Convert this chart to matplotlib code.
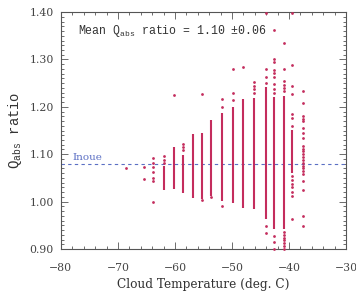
import numpy as np
import matplotlib
matplotlib.use("Agg")
import matplotlib.pyplot as plt
from matplotlib.ticker import MultipleLocator, FormatStrFormatter, FuncFormatter

# ── Data ──────────────────────────────────────────────────────
# temperature of each column (deg C)
col_temp = [-68.5, -65.4, -63.9, -62.0, -60.2, -58.5, -56.8, -55.3, -53.6,
            -51.8, -49.8, -48.0, -46.1, -44.1, -42.6, -40.9, -39.4, -37.5]

# dense (solid-looking) part of each column: low / high ratio, None = no dense part
dense_low = [None, None, None, 1.025, 1.027, 1.019, 1.008, 1.006, 1.012,
             1.001, 0.998, 0.986, 0.984, 0.963, 0.942, 0.942, 1.061, None]
dense_high = [None, None, None, 1.075, 1.116, 1.098, 1.143, 1.145, 1.173,
              1.188, 1.200, 1.217, 1.219, 1.242, 1.221, 1.222, 1.152, None]

# isolated points of each column
extra_pts = [
    [1.070],
    [1.073, 1.047],
    [1.091, 1.081, 1.072, 1.062, 1.050, 1.043, 1.000],
    [1.096, 1.088, 1.082],
    [1.226],
    [1.122, 1.115, 1.108],
    [],
    [1.228, 1.004],
    [1.009],
    [1.217, 1.200, 0.990],
    [1.279, 1.230, 1.215],
    [1.285],
    [1.253, 1.245, 1.238, 1.230],
    [1.398, 1.279, 1.263, 1.251, 0.949, 0.934],
    [1.362, 1.301, 1.295, 1.278, 1.272, 1.263, 1.249, 1.238, 1.230,
     0.928, 0.915, 0.901],
    [1.334, 1.280, 1.254, 1.247, 1.240, 1.233,
     0.936, 0.930, 0.924, 0.918, 0.912, 0.906, 0.900],
    [1.398, 1.289, 1.245, 1.228, 1.185, 1.177, 1.160,
     1.054, 1.046, 1.038, 1.030, 1.021, 1.012, 0.964],
    [1.233, 1.208, 1.180, 1.175, 1.170, 1.156, 1.145, 1.135,
     1.118, 1.112, 1.106, 1.100, 1.094, 1.088, 1.082, 1.076, 1.070,
     1.064, 1.058, 1.044, 1.024, 0.969, 0.949],
]

INOUE = 1.08
MEAN_TEXT = "Mean Q$_{\\rm abs}$ ratio = 1.10 \u00b10.06"

RED = "#c42d5d"
BLUE = "#5b6fc4"

plt.rcParams["mathtext.fontset"] = "custom"
plt.rcParams["mathtext.rm"] = "Liberation Mono"
plt.rcParams["mathtext.bf"] = "Liberation Mono:bold"

fig = plt.figure(figsize=(3.56, 2.95), dpi=100)
ax = fig.add_axes([0.171, 0.156, 0.801, 0.803])

# ── columns ──────────────────────────────────────────────────
for t, lo, hi, pts in zip(col_temp, dense_low, dense_high, extra_pts):
    if lo is not None:
        ax.vlines(t, lo, hi, color=RED, lw=1.5, zorder=3)
    if pts:
        ax.scatter([t] * len(pts), pts, s=4, color=RED, lw=0,
                   zorder=3, clip_on=False)

# ── Inoue line ───────────────────────────────────────────────
ax.axhline(INOUE, color=BLUE, lw=0.8, ls=(0, (3, 3)), zorder=2)
ax.text(-75.3, INOUE + 0.003, "Inoue", color=BLUE, fontsize=7.5,
        family="DejaVu Serif", ha="center", va="bottom")

ax.text(-77.0, 1.360, MEAN_TEXT, fontsize=8.3, family="Liberation Mono",
        color="#333333", ha="left", va="center")

# ── axes styling ─────────────────────────────────────────────
ax.set_xlim(-80, -30)
ax.set_ylim(0.90, 1.40)
ax.xaxis.set_major_locator(MultipleLocator(10))
ax.xaxis.set_minor_locator(MultipleLocator(2))
ax.yaxis.set_major_locator(MultipleLocator(0.1))
ax.yaxis.set_minor_locator(MultipleLocator(0.01))
ax.yaxis.set_major_formatter(FormatStrFormatter("%.2f"))
ax.xaxis.set_major_formatter(
    FuncFormatter(lambda v, p: f"{int(v)}".replace("-", "\u2212")))

ax.tick_params(which="both", direction="in", top=True, right=True,
               color="#555555", width=0.6)
ax.tick_params(which="major", length=5)
ax.tick_params(which="minor", length=2.5)
ax.tick_params(axis="x", which="major", pad=10)
ax.tick_params(axis="y", which="major", pad=5)
for lab in ax.get_xticklabels() + ax.get_yticklabels():
    lab.set_family("DejaVu Serif")
    lab.set_fontsize(7.8)
    lab.set_color("#444444")
for sp in ax.spines.values():
    sp.set_color("#555555")
    sp.set_linewidth(0.8)

ax.set_xlabel("Cloud Temperature (deg. C)", family="DejaVu Serif",
              fontsize=8.7, color="#333333", labelpad=4)
ax.set_ylabel("Q$_{\\rm abs}$ ratio", family="Liberation Mono",
              fontsize=10, color="#333333", labelpad=4)

fig.savefig("out.png", dpi=100)
